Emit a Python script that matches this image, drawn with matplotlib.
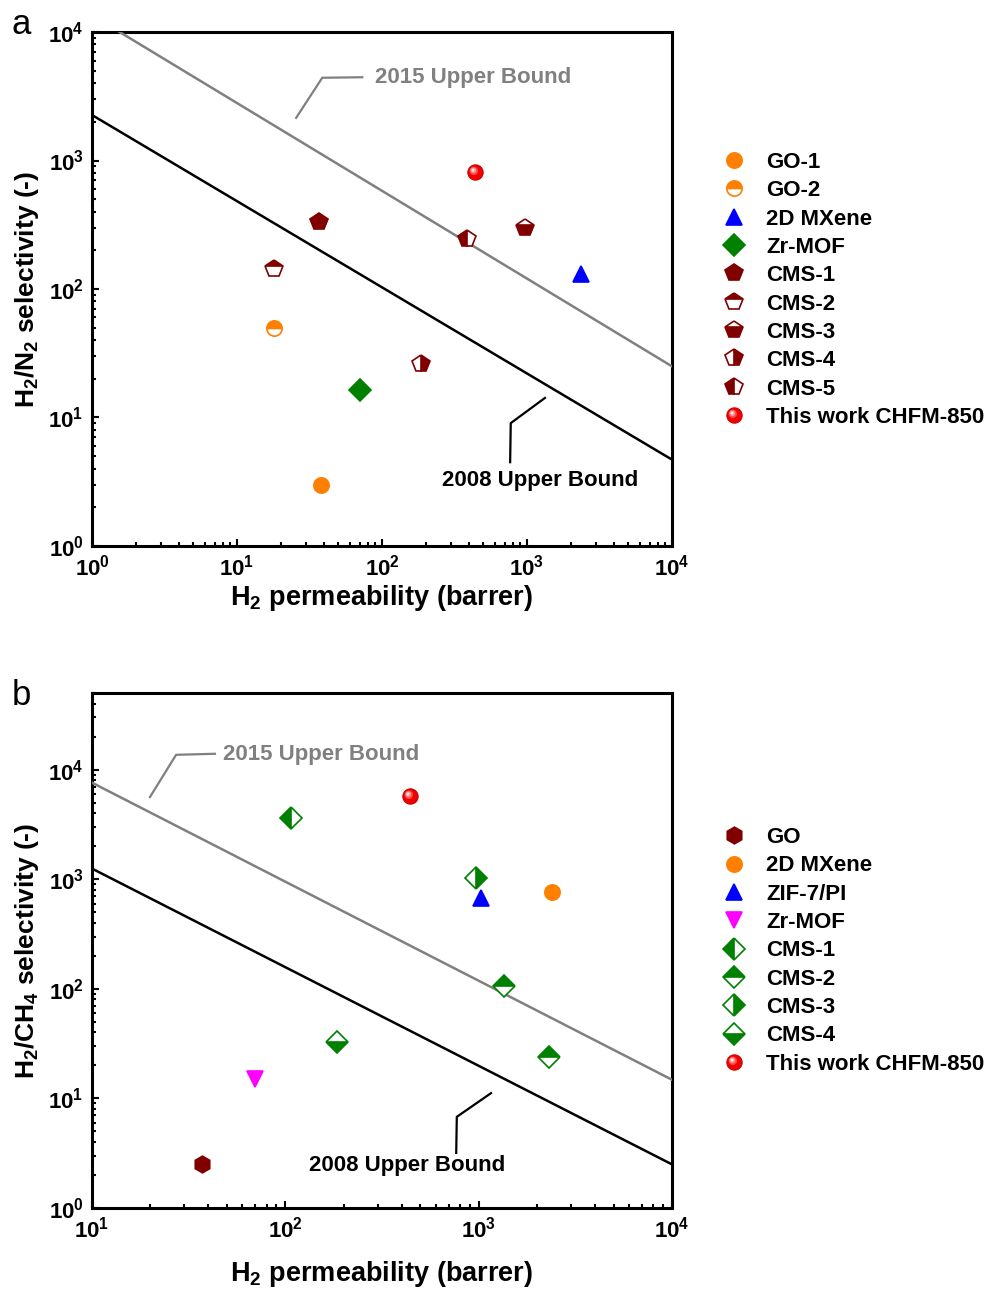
import numpy as np
import matplotlib
matplotlib.use("Agg")
import matplotlib.pyplot as plt
from matplotlib.path import Path
from matplotlib.legend_handler import HandlerTuple

plt.rcParams['font.family'] = ['Liberation Sans', 'DejaVu Sans']
plt.rcParams['font.weight'] = 'bold'
plt.rcParams['axes.labelweight'] = 'bold'
plt.rcParams['mathtext.fontset'] = 'custom'
plt.rcParams['mathtext.rm'] = 'Liberation Sans:bold'
plt.rcParams['mathtext.bf'] = 'Liberation Sans:bold'
plt.rcParams['mathtext.it'] = 'Liberation Sans:bold'
plt.rcParams['mathtext.default'] = 'rm'

# ---- (a) H2/N2 ----
n2_names = ['GO-1', 'GO-2', '2D MXene', 'Zr-MOF', 'CMS-1', 'CMS-2', 'CMS-3',
            'CMS-4', 'CMS-5', 'This work CHFM-850']
n2_perm = [[38], [18], [2350], [70], [37], [18], [970], [185], [385], [440]]
n2_sel = [[3.0], [50], [130], [16.3], [335], [142], [300], [26], [245], [810]]

n2_ub2008_perm = [1, 1e4]
n2_ub2008_sel = [2260, 4.7]
n2_ub2015_perm = [1, 1e4]
n2_ub2015_sel = [13500, 25]

# ---- (b) H2/CH4 ----
ch4_names = ['GO', '2D MXene', 'ZIF-7/PI', 'Zr-MOF', 'CMS-1', 'CMS-2', 'CMS-3',
             'CMS-4', 'This work CHFM-850']
ch4_perm = [[37], [2400], [1030], [70], [107], [1350, 2300], [970], [185], [440]]
ch4_sel = [[2.5], [770], [680], [15], [3600], [105, 24], [1030], [33], [5700]]

ch4_ub2008_perm = [10, 1e4]
ch4_ub2008_sel = [1250, 2.5]
ch4_ub2015_perm = [10, 1e4]
ch4_ub2015_sel = [7600, 14.8]

ticks_a_x = [1, 10, 100, 1000, 10000]
ticks_a_xlab = ['$10^{0}$', '$10^{1}$', '$10^{2}$', '$10^{3}$', '$10^{4}$']
ticks_a_y = [1, 10, 100, 1000, 10000]
ticks_a_ylab = ['$10^{0}$', '$10^{1}$', '$10^{2}$', '$10^{3}$', '$10^{4}$']
ticks_b_x = [10, 100, 1000, 10000]
ticks_b_xlab = ['$10^{1}$', '$10^{2}$', '$10^{3}$', '$10^{4}$']
ticks_b_y = [1, 10, 100, 1000, 10000]
ticks_b_ylab = ['$10^{0}$', '$10^{1}$', '$10^{2}$', '$10^{3}$', '$10^{4}$']

ORANGE = '#ff8000'
MAROON = '#800000'
GREEN = '#008000'
GRAY = '#808080'

style_a = [
    dict(marker='o', color=ORANGE, ms=11, fill='full'),
    dict(marker='o', color=ORANGE, ms=11, fill='top'),
    dict(marker='^', color='#0000ff', ms=12, fill='full'),
    dict(marker='D', color=GREEN, ms=11, fill='full'),
    dict(marker='p', color=MAROON, ms=13, fill='full'),
    dict(marker='p', color=MAROON, ms=13, fill='top'),
    dict(marker='p', color=MAROON, ms=13, fill='bottom'),
    dict(marker='p', color=MAROON, ms=13, fill='right'),
    dict(marker='p', color=MAROON, ms=13, fill='left'),
    'sphere',
]
style_b = [
    dict(marker='h', color=MAROON, ms=12, fill='full'),
    dict(marker='o', color=ORANGE, ms=11, fill='full'),
    dict(marker='^', color='#0000ff', ms=12, fill='full'),
    dict(marker='v', color='#ff00ff', ms=12, fill='full'),
    dict(marker='D', color=GREEN, ms=11, fill='left'),
    dict(marker='D', color=GREEN, ms=11, fill='top'),
    dict(marker='D', color=GREEN, ms=11, fill='right'),
    dict(marker='D', color=GREEN, ms=11, fill='bottom'),
    'sphere',
]


# glossy highlight for the sphere marker; corner moves keep the offset after rescaling
def _offset_marker(cx, cy, r):
    c = Path.circle(center=(cx, cy), radius=r)
    verts = np.vstack([[[-1, -1]], [[1, 1]], c.vertices])
    codes = np.concatenate([[Path.MOVETO, Path.MOVETO], c.codes])
    return Path(verts, codes)


HILITES = [(_offset_marker(-0.22, 0.22, 0.55), '#ff4848'),
           (_offset_marker(-0.28, 0.28, 0.38), '#ff8a8a'),
           (_offset_marker(-0.32, 0.32, 0.22), '#ffd0d0'),
           (_offset_marker(-0.34, 0.34, 0.11), 'white')]
SPHERE_MS = 11


def draw_series(ax, xs, ys, st, label):
    if st == 'sphere':
        hs = []
        h, = ax.plot(xs, ys, ls='none', marker='o', ms=SPHERE_MS, mfc='#f00000',
                     mec='#d00000', mew=0.8, zorder=5)
        hs.append(h)
        for i, (mk, col) in enumerate(HILITES):
            h, = ax.plot(xs, ys, ls='none', marker=mk, ms=SPHERE_MS, mfc=col,
                         mec='none', zorder=6 + i)
            hs.append(h)
        return tuple(hs), label
    h, = ax.plot(xs, ys, ls='none', marker=st['marker'], ms=st['ms'],
                 mfc=st['color'], mec=st['color'], mew=1.2,
                 fillstyle=st['fill'], mfcalt='white', zorder=5)
    return h, label


def setup_axes(ax, xlim, ylim, xt, xtl, yt, ytl, ylabel, xpad):
    ax.set_xscale('log')
    ax.set_yscale('log')
    ax.set_xlim(*xlim)
    ax.set_ylim(*ylim)
    ax.set_xticks(xt)
    ax.set_xticklabels(xtl)
    ax.set_yticks(yt)
    ax.set_yticklabels(ytl)
    ax.tick_params(which='both', direction='in', top=False, right=False,
                   labelsize=16, width=1.5)
    ax.tick_params(which='major', length=5, pad=6)
    ax.tick_params(which='minor', length=3)
    for s in ax.spines.values():
        s.set_linewidth(2.2)
    ax.set_xlabel('H$_2$ permeability (barrer)', fontsize=19.5, labelpad=xpad)
    ax.set_ylabel(ylabel, fontsize=19, labelpad=5)


def leader(ax, pts, color):
    xs, ys = zip(*pts)
    ax.plot(xs, ys, color=color, lw=1.6, transform=ax.transAxes, clip_on=False)


def add_legend(ax, handles, labels, anchor):
    ax.legend(handles, labels, loc='upper left', bbox_to_anchor=anchor,
              frameon=False, fontsize=16, labelspacing=0.33, handletextpad=0.69,
              handlelength=1.5, borderaxespad=0,
              handler_map={tuple: HandlerTuple(ndivide=1, pad=0)})


fig = plt.figure(figsize=(9.85, 12.91), dpi=100)
ax_a = fig.add_axes([0.0934, 0.5771, 0.5888, 0.3981])
ax_b = fig.add_axes([0.0934, 0.0643, 0.5888, 0.3989])

# panel a
ax_a.plot(n2_ub2008_perm, n2_ub2008_sel, color='black', lw=1.8, zorder=3)
ax_a.plot(n2_ub2015_perm, n2_ub2015_sel, color=GRAY, lw=1.8, zorder=3)
handles, labels = [], []
for xs, ys, st, nm in zip(n2_perm, n2_sel, style_a, n2_names):
    h, l = draw_series(ax_a, xs, ys, st, nm)
    handles.append(h)
    labels.append(l)
setup_axes(ax_a, (1, 1e4), (1, 1e4), ticks_a_x, ticks_a_xlab, ticks_a_y,
           ticks_a_ylab, 'H$_2$/N$_2$ selectivity (-)', 2)
leader(ax_a, [(0.352, 0.833), (0.397, 0.911), (0.466, 0.912)], GRAY)
ax_a.text(0.488, 0.912, '2015 Upper Bound', color=GRAY, fontsize=16,
          ha='left', va='center', transform=ax_a.transAxes)
leader(ax_a, [(0.781, 0.288), (0.722, 0.239), (0.721, 0.163)], 'black')
ax_a.text(0.772, 0.128, '2008 Upper Bound', color='black', fontsize=16,
          ha='center', va='center', transform=ax_a.transAxes)
add_legend(ax_a, handles, labels, (1.063, 0.784))
fig.text(0.012, 0.981, 'a', fontsize=25, fontweight='normal', va='center')

# panel b
ax_b.plot(ch4_ub2008_perm, ch4_ub2008_sel, color='black', lw=1.8, zorder=3)
ax_b.plot(ch4_ub2015_perm, ch4_ub2015_sel, color=GRAY, lw=1.8, zorder=3)
handles, labels = [], []
for xs, ys, st, nm in zip(ch4_perm, ch4_sel, style_b, ch4_names):
    h, l = draw_series(ax_b, xs, ys, st, nm)
    handles.append(h)
    labels.append(l)
setup_axes(ax_b, (10, 1e4), (1, 5e4), ticks_b_x, ticks_b_xlab, ticks_b_y,
           ticks_b_ylab, 'H$_2$/CH$_4$ selectivity (-)', 12)
leader(ax_b, [(0.100, 0.798), (0.145, 0.880), (0.212, 0.882)], GRAY)
ax_b.text(0.226, 0.880, '2015 Upper Bound', color=GRAY, fontsize=16,
          ha='left', va='center', transform=ax_b.transAxes)
leader(ax_b, [(0.688, 0.223), (0.629, 0.177), (0.628, 0.107)], 'black')
ax_b.text(0.544, 0.083, '2008 Upper Bound', color='black', fontsize=16,
          ha='center', va='center', transform=ax_b.transAxes)
add_legend(ax_b, handles, labels, (1.063, 0.757))
fig.text(0.012, 0.461, 'b', fontsize=25, fontweight='normal', va='center')

fig.savefig('out.png', dpi=100)
